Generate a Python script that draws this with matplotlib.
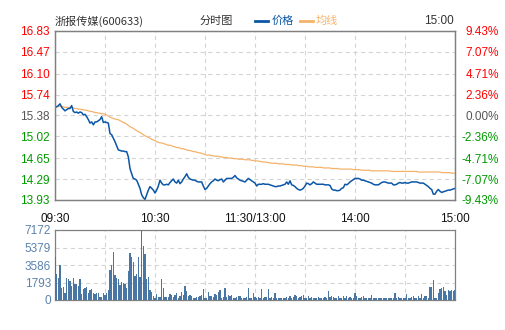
import matplotlib
matplotlib.use('Agg')
import matplotlib.pyplot as plt
from matplotlib.lines import Line2D

plt.rcParams['font.family'] = ['Liberation Sans', 'Noto Sans CJK SC', 'DejaVu Sans']
plt.rcParams['lines.scale_dashes'] = False

stock_name = '浙报传媒'
stock_code = '600633'
pre_close = 15.38

price_ticks = [13.93, 14.29, 14.65, 15.02, 15.38, 15.74, 16.10, 16.47, 16.83]
pct_labels = ['-9.43%', '-7.07%', '-4.71%', '-2.36%', '0.00%', '2.36%', '4.71%', '7.07%', '9.43%']
vol_ticks = [0, 1793, 3586, 5379, 7172]
time_ticks = [0, 60, 120, 180, 240]
time_labels = ['09:30', '10:30', '11:30/13:00', '14:00', '15:00']

# minute prices 09:30 .. 15:00 (lunch break removed)
price = [
    15.52, 15.53, 15.55, 15.58, 15.52, 15.49, 15.46, 15.48, 15.50, 15.50,
    15.55, 15.45, 15.43, 15.44, 15.42, 15.44, 15.43, 15.39, 15.40, 15.36,
    15.31, 15.25, 15.27, 15.22, 15.27, 15.27, 15.29, 15.31, 15.36, 15.26,
    15.27, 15.26, 15.25, 15.07, 15.05, 14.99, 14.93, 14.86, 14.79, 14.78,
    14.77, 14.77, 14.76, 14.76, 14.67, 14.47, 14.38, 14.30, 14.29, 14.27,
    14.20, 14.13, 14.02, 13.97, 13.94, 14.02, 14.10, 14.16, 14.13, 14.10,
    14.05, 14.10, 14.17, 14.27, 14.22, 14.19, 14.19, 14.20, 14.19, 14.23,
    14.26, 14.29, 14.24, 14.22, 14.27, 14.21, 14.24, 14.29, 14.33, 14.38,
    14.32, 14.29, 14.28, 14.27, 14.27, 14.25, 14.24, 14.24, 14.24, 14.17,
    14.11, 14.13, 14.17, 14.21, 14.24, 14.26, 14.29, 14.27, 14.26, 14.28,
    14.29, 14.24, 14.27, 14.30, 14.30, 14.30, 14.30, 14.32, 14.35, 14.31,
    14.29, 14.27, 14.26, 14.25, 14.24, 14.27, 14.30, 14.28, 14.26, 14.24,
    14.22, 14.17, 14.20, 14.20, 14.20, 14.21, 14.20, 14.20, 14.20, 14.19,
    14.18, 14.17, 14.16, 14.16, 14.17, 14.17, 14.18, 14.19, 14.20, 14.24,
    14.20, 14.26, 14.19, 14.18, 14.16, 14.13, 14.11, 14.10, 14.11, 14.13,
    14.17, 14.22, 14.21, 14.19, 14.21, 14.24, 14.22, 14.20, 14.20, 14.20,
    14.20, 14.20, 14.19, 14.19, 14.19, 14.18, 14.12, 14.10, 14.10, 14.09,
    14.09, 14.10, 14.13, 14.14, 14.20, 14.19, 14.21, 14.24, 14.26, 14.28,
    14.30, 14.30, 14.30, 14.29, 14.27, 14.27, 14.26, 14.25, 14.24, 14.23,
    14.22, 14.20, 14.19, 14.19, 14.19, 14.21, 14.23, 14.24, 14.24, 14.23,
    14.22, 14.22, 14.22, 14.19, 14.19, 14.20, 14.22, 14.23, 14.22, 14.22,
    14.23, 14.22, 14.22, 14.23, 14.24, 14.24, 14.24, 14.24, 14.23, 14.22,
    14.22, 14.22, 14.20, 14.18, 14.16, 14.13, 14.11, 14.03, 14.03, 14.08,
    14.11, 14.08, 14.06, 14.07, 14.08, 14.09, 14.10, 14.10, 14.11, 14.12,
    14.13,
]

avg_price = [
    15.52, 15.53, 15.53, 15.54, 15.54, 15.53, 15.52, 15.52, 15.52, 15.52,
    15.52, 15.51, 15.50, 15.50, 15.49, 15.49, 15.48, 15.48, 15.47, 15.47,
    15.46, 15.45, 15.45, 15.44, 15.43, 15.43, 15.42, 15.42, 15.41, 15.41,
    15.40, 15.39, 15.37, 15.35, 15.34, 15.33, 15.32, 15.31, 15.31, 15.29,
    15.28, 15.26, 15.25, 15.23, 15.21, 15.19, 15.17, 15.16, 15.14, 15.12,
    15.10, 15.09, 15.07, 15.05, 15.03, 15.02, 15.00, 14.99, 14.97, 14.96,
    14.95, 14.93, 14.92, 14.91, 14.91, 14.90, 14.89, 14.88, 14.87, 14.87,
    14.86, 14.85, 14.84, 14.83, 14.83, 14.82, 14.81, 14.81, 14.80, 14.79,
    14.78, 14.78, 14.77, 14.76, 14.76, 14.75, 14.74, 14.74, 14.73, 14.72,
    14.71, 14.70, 14.70, 14.70, 14.69, 14.69, 14.68, 14.68, 14.68, 14.67,
    14.67, 14.66, 14.66, 14.66, 14.65, 14.65, 14.65, 14.64, 14.64, 14.64,
    14.63, 14.63, 14.63, 14.63, 14.62, 14.62, 14.62, 14.62, 14.61, 14.61,
    14.60, 14.60, 14.60, 14.59, 14.59, 14.58, 14.58, 14.58, 14.57, 14.57,
    14.56, 14.56, 14.56, 14.56, 14.55, 14.55, 14.55, 14.55, 14.54, 14.54,
    14.54, 14.54, 14.53, 14.53, 14.53, 14.53, 14.52, 14.52, 14.52, 14.51,
    14.51, 14.51, 14.50, 14.50, 14.50, 14.50, 14.49, 14.49, 14.49, 14.49,
    14.49, 14.48, 14.48, 14.48, 14.48, 14.48, 14.47, 14.47, 14.47, 14.47,
    14.47, 14.46, 14.46, 14.46, 14.46, 14.46, 14.46, 14.46, 14.46, 14.45,
    14.45, 14.45, 14.45, 14.45, 14.44, 14.44, 14.44, 14.44, 14.44, 14.44,
    14.43, 14.43, 14.43, 14.43, 14.43, 14.43, 14.43, 14.43, 14.43, 14.43,
    14.43, 14.43, 14.42, 14.42, 14.42, 14.42, 14.42, 14.42, 14.42, 14.42,
    14.42, 14.42, 14.42, 14.42, 14.42, 14.42, 14.42, 14.42, 14.41, 14.41,
    14.41, 14.41, 14.41, 14.41, 14.41, 14.41, 14.41, 14.41, 14.41, 14.41,
    14.41, 14.41, 14.40, 14.40, 14.40, 14.40, 14.40, 14.40, 14.39, 14.39,
    14.39,
]

volume = [
    4370, 2630, 2290, 3550, 1260, 1370, 720, 2290, 2150, 1950,
    1470, 2290, 1640, 1640, 1430, 2150, 650, 1130, 1260, 1330,
    750, 1020, 1160, 720, 650, 720, 720, 310, 310, 720,
    510, 720, 990, 3070, 3590, 4920, 2560, 2290, 2150, 1540,
    1810, 1740, 1610, 1260, 2970, 4780, 4370, 3890, 2460, 2630,
    4370, 2320, 7172, 5530, 4710, 2190, 2320, 990, 850, 440,
    240, 650, 270, 270, 2150, 1260, 270, 270, 270, 580,
    510, 270, 550, 750, 240, 380, 850, 510, 1470, 920,
    410, 480, 440, 170, 170, 270, 310, 410, 480, 1130,
    170, 170, 850, 440, 440, 310, 580, 510, 850, 990,
    240, 340, 1260, 310, 510, 410, 510, 170, 170, 340,
    380, 440, 170, 240, 170, 270, 1260, 170, 240, 750,
    340, 170, 270, 170, 1130, 240, 310, 310, 1130, 240,
    340, 240, 750, 170, 170, 240, 170, 240, 170, 340,
    240, 440, 240, 310, 510, 380, 240, 310, 440, 510,
    170, 170, 440, 240, 340, 170, 240, 170, 340, 170,
    240, 170, 310, 240, 920, 270, 440, 340, 240, 170,
    440, 240, 170, 380, 240, 440, 170, 310, 170, 240,
    680, 440, 240, 170, 310, 440, 170, 240, 170, 170,
    510, 170, 240, 170, 170, 240, 170, 170, 170, 240,
    170, 170, 170, 170, 680, 170, 310, 170, 240, 170,
    240, 580, 170, 240, 310, 380, 170, 240, 440, 240,
    650, 170, 440, 380, 240, 1330, 1330, 2050, 170, 240,
    680, 1130, 1200, 1330, 920, 510, 990, 920, 1060, 880,
    1060,
]

minutes = list(range(len(price)))

price_color = '#0b57a6'
avg_color = '#f5b26b'
vol_color = '#4a76a3'
grid_kw = dict(color='#d4d4d4', linestyle=(0, (3, 2.5)), linewidth=0.8)


def level_color(v):
    if abs(v - pre_close) < 0.005:
        return '#555555'
    return '#ff0000' if v > pre_close else '#009900'


fig = plt.figure(figsize=(5.05, 3.3), dpi=100)
W, H = 505.0, 330.0
ax = fig.add_axes([55 / W, 130 / H, 400 / W, 169 / H])
axv = fig.add_axes([55 / W, 30 / H, 400 / W, 70 / H])

# price panel
ax.plot(minutes, avg_price, color=avg_color, lw=0.9, zorder=3)
ax.plot(minutes, price, color=price_color, lw=1.1, zorder=4)
ax.set_xlim(0, 240)
ax.set_ylim(price_ticks[0], price_ticks[-1])
ax.set_xticks(time_ticks)
ax.set_xticklabels(time_labels)
ax.set_xticks([30, 90, 150, 210], minor=True)
ax.set_yticks(price_ticks)
ax.set_yticklabels(['%.2f' % v for v in price_ticks])
for lbl, v in zip(ax.get_yticklabels(), price_ticks):
    lbl.set_color(level_color(v))
ax.tick_params(axis='x', which='both', length=0, pad=9, labelsize=8.5, colors='#111111')
ax.tick_params(axis='y', length=0, pad=4, labelsize=8.5)
ax.grid(True, which='both', **grid_kw)

ax2 = ax.twinx()
ax2.set_ylim(price_ticks[0], price_ticks[-1])
ax2.set_yticks(price_ticks)
ax2.set_yticklabels(pct_labels)
ax2.tick_params(axis='y', length=0, pad=31.5, labelsize=8.5)
for lbl, v in zip(ax2.get_yticklabels(), price_ticks):
    lbl.set_color(level_color(v))
    lbl.set_horizontalalignment('right')
for a in (ax, ax2):
    for s in a.spines.values():
        s.set_color('#808080')
        s.set_linewidth(0.9)

# volume panel, crisp one-pixel bars
axv.bar(minutes, volume, width=0.65, color=vol_color, linewidth=0,
        antialiased=False, zorder=3)
axv.set_xlim(0, 240)
axv.set_ylim(0, vol_ticks[-1])
axv.set_xticks(list(range(0, 241, 30)))
axv.set_xticklabels([])
axv.set_yticks(vol_ticks)
axv.set_yticklabels([str(v) for v in vol_ticks])
axv.tick_params(axis='both', length=0)
axv.tick_params(axis='y', pad=3, labelsize=8.5, colors='#5a82ad')
axv.grid(True, **grid_kw)
for s in axv.spines.values():
    s.set_color('#808080')
    s.set_linewidth(0.9)

# header
ty = 1 - 21 / H
cjk = ['Noto Sans CJK SC', 'DejaVu Sans']
fig.text(55 / W, ty, '%s(%s)' % (stock_name, stock_code), family=cjk,
         fontsize=8, color='#333333', va='center')
fig.text(200 / W, ty, '分时图', family=cjk, fontsize=8, color='#333333', va='center')
fig.add_artist(Line2D([255 / W, 268 / W], [ty, ty], color=price_color, lw=2,
                      transform=fig.transFigure))
fig.text(272 / W, ty, '价格', family=cjk, fontsize=8, color=price_color, va='center')
fig.add_artist(Line2D([300 / W, 313 / W], [ty, ty], color=avg_color, lw=2,
                      transform=fig.transFigure))
fig.text(316 / W, ty, '均线', family=cjk, fontsize=8, color=avg_color, va='center')
fig.text(454 / W, ty, time_labels[-1], fontsize=8.5, color='#333333',
         va='center', ha='right')

fig.savefig('out.png', dpi=100)
